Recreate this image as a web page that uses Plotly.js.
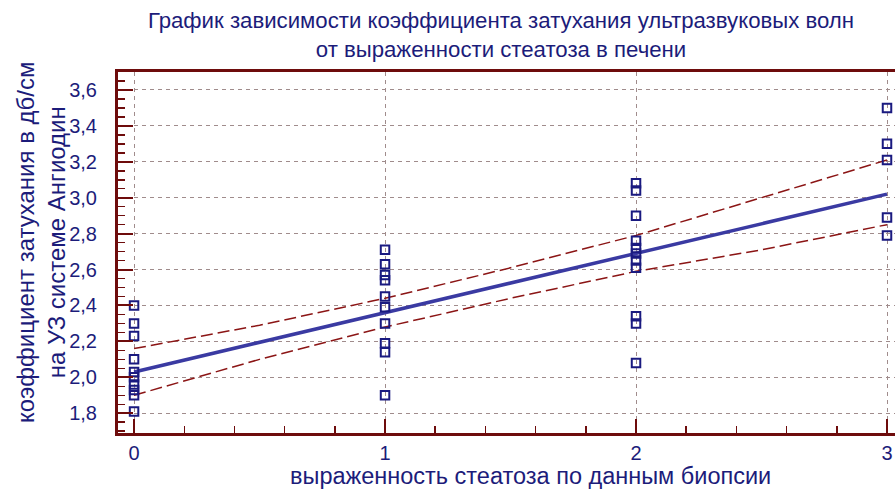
<!DOCTYPE html>
<html>
<head>
<meta charset="utf-8">
<script src="https://cdn.plot.ly/plotly-3.0.1.min.js"></script>
<style>
html,body{margin:0;padding:0;background:#fff;overflow:hidden;}
#chart{width:895px;height:502px;}
</style>
</head>
<body>
<div id="chart"></div>
<script>
// Steatosis grade (biopsy) and attenuation coefficient (dB/cm)
const grade0 = [2.40, 2.30, 2.23, 2.10, 2.03, 2.00, 1.96, 1.93, 1.90, 1.81];
const grade1 = [2.71, 2.63, 2.57, 2.54, 2.45, 2.39, 2.30, 2.19, 2.14, 1.90];
const grade2 = [3.08, 3.04, 2.90, 2.76, 2.72, 2.69, 2.65, 2.61, 2.34, 2.30, 2.08];
const grade3 = [3.50, 3.30, 3.21, 2.89, 2.79];
const grades = [0, 1, 2, 3];

// regression line and its confidence band
const fitX     = [0, 0.5, 1, 1.5, 2, 2.5, 3];
const fitY     = [2.03, 2.195, 2.36, 2.525, 2.69, 2.855, 3.02];
const upperY   = [2.16, 2.29, 2.44, 2.61, 2.79, 3.00, 3.21];
const lowerY   = [1.90, 2.10, 2.28, 2.44, 2.59, 2.71, 2.85];

const yTicks = [1.8, 2.0, 2.2, 2.4, 2.6, 2.8, 3.0, 3.2, 3.4, 3.6];
const xTickStep = 1;

const titleText = 'График зависимости коэффициента затухания ультразвуковых волн<br>от выраженности стеатоза в печени';
const yTitleText = 'коэффициент затухания в дб/см<br>на УЗ системе Ангиодин';
const xTitleText = 'выраженность стеатоза по данным биопсии';

const groups = [grade0, grade1, grade2, grade3];
const ptsX = [], ptsY = [];
groups.forEach((g, i) => g.forEach(v => { ptsX.push(grades[i]); ptsY.push(v); }));

const navy = '#1c1c7a';
const maroon = '#6e0c0c';
const gridCol = '#a08c8c';

const traces = [
  {x: fitX, y: upperY, mode: 'lines', line: {color: '#8b1515', width: 1.5, dash: '12px,5px'}, hoverinfo: 'skip'},
  {x: fitX, y: lowerY, mode: 'lines', line: {color: '#8b1515', width: 1.5, dash: '12px,5px'}, hoverinfo: 'skip'},
  {x: fitX, y: fitY, mode: 'lines', line: {color: '#3a3aa2', width: 3.5}, hoverinfo: 'skip'},
  {x: ptsX, y: ptsY, mode: 'markers', cliponaxis: false,
   marker: {symbol: 'square-open', size: 8.5, color: '#1a1a80', line: {width: 2, color: '#1a1a80'}}}
];

const L = 118, R = 0, T = 72, B = 69;
const pw = 895 - L - R, ph = 502 - T - B;

const layout = {
  width: 895, height: 502,
  margin: {l: L, r: R, t: T, b: B, pad: 0},
  paper_bgcolor: '#ffffff', plot_bgcolor: '#ffffff',
  showlegend: false,
  separators: ', ',
  font: {family: 'Liberation Sans, Arial, sans-serif', color: navy, size: 20},
  title: {text: titleText, x: 501/895, xanchor: 'center', xref: 'container',
          y: 1 - 28/502, yanchor: 'middle', yref: 'container',
          font: {family: 'Liberation Sans, Arial, sans-serif', size: 22.2, color: navy}},
  xaxis: {
    range: [-0.064, 3 + 8/251],
    tickmode: 'linear', tick0: 0, dtick: xTickStep, tickformat: 'd',
    ticks: 'inside', ticklen: 14, tickwidth: 2, tickcolor: maroon,
    minor: {dtick: 0.2, ticks: 'inside', ticklen: 7, tickwidth: 1.5, tickcolor: maroon, showgrid: false},
    showline: true, linecolor: maroon, linewidth: 3, mirror: true,
    showgrid: true, gridcolor: gridCol, gridwidth: 1, griddash: '4px,4px',
    zeroline: false, ticklabelstandoff: 0,
    tickfont: {size: 20, color: navy}
  },
  yaxis: {
    range: [1.69, 3.70],
    tickvals: yTicks, tickformat: '.1f',
    ticks: 'inside', ticklen: 15, tickwidth: 2, tickcolor: maroon,
    minor: {dtick: 0.05, tick0: 1.8, ticks: 'inside', ticklen: 7, tickwidth: 1.5, tickcolor: maroon, showgrid: false},
    showline: true, linecolor: maroon, linewidth: 3, mirror: false,
    showgrid: true, gridcolor: gridCol, gridwidth: 1, griddash: '4px,4px',
    zeroline: false, ticklabelstandoff: 14,
    tickfont: {size: 20, color: navy}
  },
  annotations: [
    {text: yTitleText, xref: 'paper', yref: 'paper', x: (41 - L)/pw, y: (433 - 242)/ph,
     xanchor: 'center', yanchor: 'middle', textangle: -90, showarrow: false,
     font: {size: 24, color: navy}},
    {text: xTitleText, xref: 'paper', yref: 'paper', x: (530 - L)/pw, y: (433 - 476)/ph,
     xanchor: 'center', yanchor: 'middle', showarrow: false,
     font: {size: 23.5, color: navy}}
  ]
};

Plotly.newPlot('chart', traces, layout, {displayModeBar: false, staticPlot: true});
</script>
</body>
</html>
